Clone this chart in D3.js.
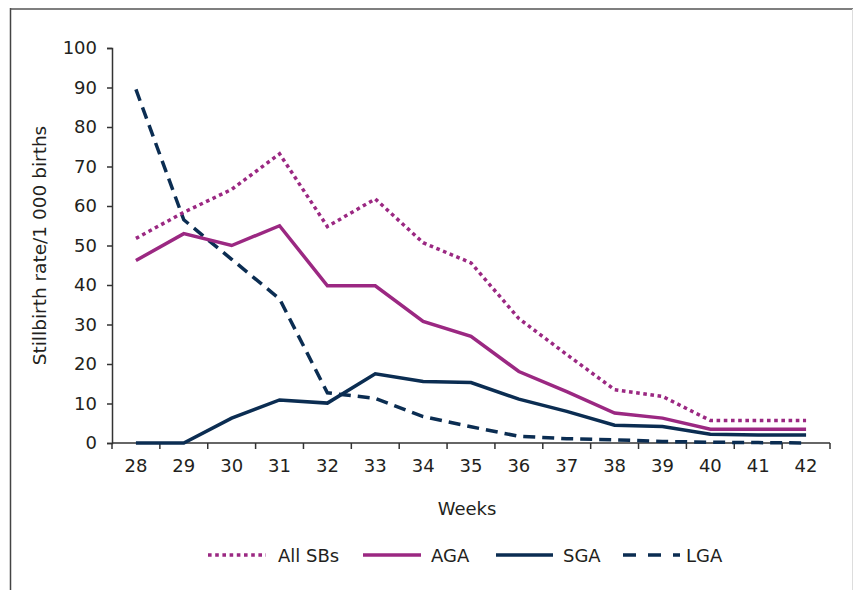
<!DOCTYPE html>
<html>
<head>
<meta charset="utf-8">
<script src="https://cdn.jsdelivr.net/npm/d3@7"></script>
<style>
  body { margin: 0; background: #fff; }
  svg text { font-family: "DejaVu Sans", sans-serif; fill: #231f20; }
</style>
</head>
<body>
<svg id="chart" width="854" height="590"></svg>
<script>
const weeks = [28, 29, 30, 31, 32, 33, 34, 35, 36, 37, 38, 39, 40, 41, 42];
const allSBs = [51.8, 58.4, 64.2, 73.2, 54.8, 61.8, 50.7, 45.6, 31.5, 22.4, 13.5, 11.8, 5.7, 5.7, 5.7];
const aga = [46.2, 53.0, 50.0, 55.0, 39.8, 39.8, 30.8, 27.0, 18.1, 13.0, 7.6, 6.3, 3.5, 3.5, 3.5];
const sga = [0, 0, 6.3, 10.9, 10.1, 17.5, 15.6, 15.3, 11.1, 8.0, 4.5, 4.2, 2.2, 2.0, 2.0];
const lga = [89.5, 56.5, 46.5, 36.5, 12.7, 11.3, 6.7, 4.1, 1.7, 1.1, 0.8, 0.4, 0.2, 0.1, 0.0];
const yTicks = [0, 10, 20, 30, 40, 50, 60, 70, 80, 90, 100];
const seriesNames = ["All SBs", "AGA", "SGA", "LGA"];

const magenta = "#9b2882", navy = "#0b2d52";
const styles = {
  "All SBs": { color: magenta, dash: "3.6,3.6" },
  "AGA": { color: magenta, dash: null },
  "SGA": { color: navy, dash: null },
  "LGA": { color: navy, dash: "12,7" }
};
const seriesData = { "All SBs": allSBs, "AGA": aga, "SGA": sga, "LGA": lga };

const svg = d3.select("#chart");
const mLeft = 112, mRight = 830, mTop = 48, mBottom = 443;
const fs = 18;

// frame
svg.append("line").attr("x1", 10.5).attr("x2", 10.5).attr("y1", 8).attr("y2", 590)
  .attr("stroke", "#444").attr("stroke-width", 1.5);
svg.append("line").attr("x1", 10).attr("x2", 853).attr("y1", 9).attr("y2", 9)
  .attr("stroke", "#555").attr("stroke-width", 1.5);
svg.append("line").attr("x1", 852.5).attr("x2", 852.5).attr("y1", 9).attr("y2", 590)
  .attr("stroke", "#ddd").attr("stroke-width", 1);

const x = d3.scaleBand().domain(weeks).range([mLeft, mRight]).padding(0);
const y = d3.scaleLinear().domain([0, 100]).range([mBottom, mTop]);
const cx = w => x(w) + x.bandwidth() / 2;

// y axis
const yAxis = d3.axisLeft(y).tickValues(yTicks).tickSize(5).tickPadding(10);
const gy = svg.append("g").attr("transform", `translate(${mLeft},0)`).call(yAxis);
gy.select(".domain").attr("stroke", "#333").attr("stroke-width", 1.5);
gy.selectAll(".tick line").attr("stroke", "#333").attr("stroke-width", 1.5);
gy.selectAll(".tick text").attr("font-size", fs).attr("font-family", "DejaVu Sans").attr("fill", "#231f20");

// x axis (labels at band centres, ticks at band boundaries)
const xAxis = d3.axisBottom(x).tickSize(0).tickPadding(16);
const gx = svg.append("g").attr("transform", `translate(0,${mBottom})`).call(xAxis);
gx.select(".domain").remove();
gx.selectAll(".tick text").attr("font-size", fs).attr("font-family", "DejaVu Sans").attr("fill", "#231f20");
const bounds = weeks.map(w => x(w)).concat([mRight]);
svg.append("line").attr("x1", mLeft).attr("x2", mRight).attr("y1", mBottom).attr("y2", mBottom)
  .attr("stroke", "#333").attr("stroke-width", 1.5);
svg.append("g").selectAll("line").data(bounds).join("line")
  .attr("x1", d => d).attr("x2", d => d).attr("y1", mBottom).attr("y2", mBottom + 6)
  .attr("stroke", "#333").attr("stroke-width", 1.5);

// axis titles
svg.append("text").attr("x", 467).attr("y", 515).attr("text-anchor", "middle")
  .attr("font-size", fs).text("Weeks");
svg.append("text").attr("transform", `translate(46,${(mTop + mBottom) / 2}) rotate(-90)`)
  .attr("text-anchor", "middle").attr("font-size", 18.5).text("Stillbirth rate/1 000 births");

// lines
const line = d3.line().x((d, i) => cx(weeks[i])).y(d => y(d)).curve(d3.curveLinear);
const drawOrder = ["LGA", "SGA", "AGA", "All SBs"];
drawOrder.forEach(name => {
  const st = styles[name];
  svg.append("path").datum(seriesData[name])
    .attr("d", line).attr("fill", "none")
    .attr("stroke", st.color).attr("stroke-width", 3.5)
    .attr("stroke-dasharray", st.dash)
    .attr("stroke-linejoin", "miter");
});

// legend
const legendItems = [
  { name: "All SBs", x0: 208, x1: 266, tx: 278 },
  { name: "AGA", x0: 363, x1: 421, tx: 431 },
  { name: "SGA", x0: 496, x1: 553, tx: 563 },
  { name: "LGA", x0: 623, x1: 680, tx: 686 }
];
const ly = 555;
const lg = svg.append("g");
legendItems.forEach(it => {
  const st = styles[it.name];
  lg.append("line").attr("x1", it.x0).attr("x2", it.x1).attr("y1", ly).attr("y2", ly)
    .attr("stroke", st.color).attr("stroke-width", 3.5)
    .attr("stroke-dasharray", it.name === "LGA" ? "13,12" : st.dash);
  lg.append("text").attr("x", it.tx).attr("y", ly + 6.5).attr("font-size", fs).text(it.name);
});
</script>
</body>
</html>
